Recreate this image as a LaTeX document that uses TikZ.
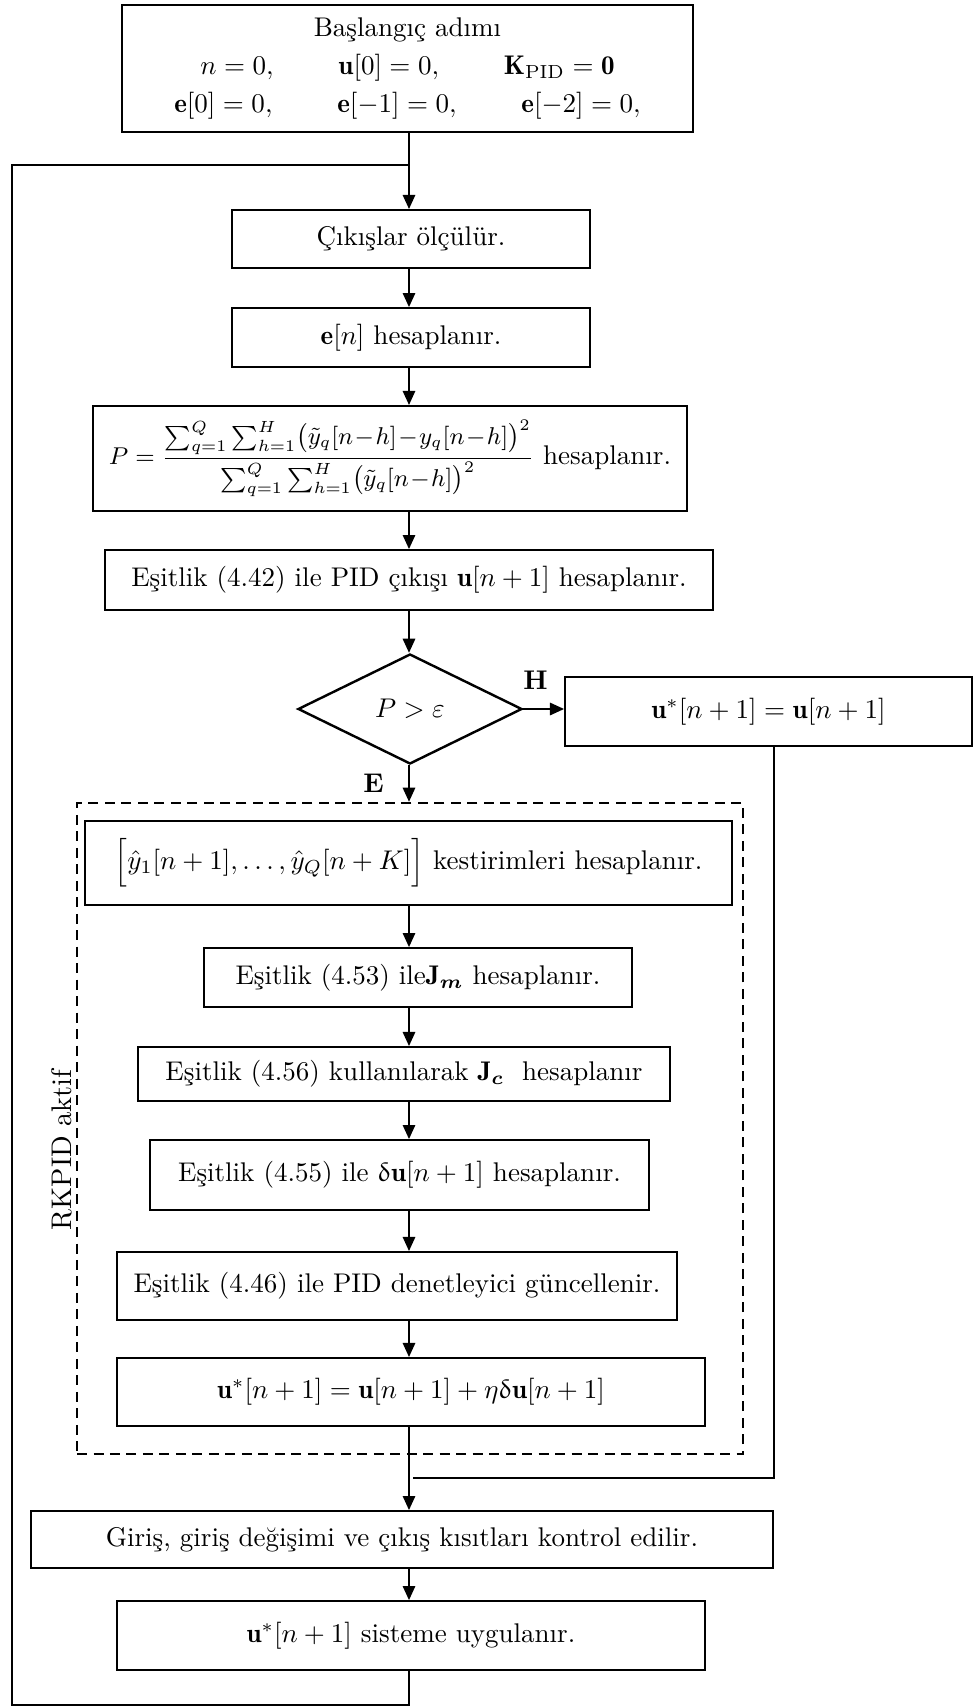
\documentclass[tikz,border=0pt]{standalone}
\usepackage{amsmath}
\usepackage{upgreek}
\usepackage{fontspec}
\usetikzlibrary{arrows.meta,shapes.geometric}
\tikzset{
  kutu/.style={draw, line width=0.7pt, inner sep=0pt, align=center},
  secim/.style={draw, diamond, aspect=2, line width=0.9pt, inner sep=0pt},
  ok/.style={-{Triangle[length=5.2pt,width=4.6pt]}, line width=0.6pt},
  hat/.style={line width=0.7pt},
  etiket/.style={font=\bfseries},
  grup/.style={draw, dash pattern=on 3.7pt off 2.4pt, line width=0.9pt, inner sep=0pt}
}
\begin{document}
\begin{tikzpicture}[x=0.37pt,y=-0.37pt]
    \useasboundingbox (0,0) rectangle (974,1707);
    \coordinate (fl) at (409,0);
    \coordinate (sag) at (774,0);
    \coordinate (birles) at (413,1478);
    \coordinate (alt) at (12,1705);
    \coordinate (ust) at (409,165);
    \node[grup, minimum width=246.4pt, minimum height=240.9pt] (rk) at (410,1128.5) {};
    \node[kutu, minimum width=211.3pt, minimum height=47pt] (bas) at (407.5,68.5) {Başlangıç adımı\\[2pt]
        $n=0,$\hspace{24pt}$\mathbf{u}[0]=0,$\hspace{24pt}$\mathbf{K}_{\mathrm{PID}}=\mathbf{0}$\\[2pt]
        $\mathbf{e}[0]=0,$\hspace{24pt}$\mathbf{e}[-1]=0,$\hspace{24pt}$\mathbf{e}[-2]=0,$};
    \node[kutu, minimum width=132.5pt, minimum height=21.5pt] (olc) at (411,239) {Çıkışlar ölçülür.};
    \node[kutu, minimum width=132.5pt, minimum height=21.8pt] (hata) at (411,337.5) {$\mathbf{e}[n]$ hesaplanır.};
    \node[kutu, minimum width=219.8pt, minimum height=38.9pt] (perf) at (390,458.5) {{\small$\medmuskip=1mu P=\dfrac{\sum_{q=1}^{Q}\sum_{h=1}^{H}\bigl(\tilde{y}_q[n-h]-y_q[n-h]\bigr)^{2}}{\sum_{q=1}^{Q}\sum_{h=1}^{H}\bigl(\tilde{y}_q[n-h]\bigr)^{2}}$} hesaplanır.};
    \node[kutu, minimum width=225pt, minimum height=22.2pt] (pid) at (409,580) {Eşitlik (4.42) ile PID çıkışı $\mathbf{u}[n+1]$ hesaplanır.};
    \node[secim, minimum width=82.9pt, minimum height=40.7pt] (karar) at (410,709) {$P>\varepsilon$};
    \node[kutu, minimum width=150.6pt, minimum height=25.5pt] (uesit) at (768.5,711.5) {$\mathbf{u}^{*}[n+1]=\mathbf{u}[n+1]$};
    \node[kutu, minimum width=239.4pt, minimum height=31.1pt] (kest) at (408.5,863) {$\Bigl[\hat{y}_1[n+1],\ldots,\hat{y}_Q[n+K]\Bigr]$ kestirimleri hesaplanır.};
    \node[kutu, minimum width=158.4pt, minimum height=21.8pt] (jm) at (418,977.5) {Eşitlik (4.53) ile$\mathbf{J}_{\boldsymbol{m}}$ hesaplanır.};
    \node[kutu, minimum width=196.8pt, minimum height=20pt] (jc) at (404,1074) {Eşitlik (4.56) kullanılarak $\mathbf{J}_{\boldsymbol{c}}$\ \ hesaplanır};
    \node[kutu, minimum width=184.6pt, minimum height=25.9pt] (du) at (399.5,1175) {Eşitlik (4.55) ile $\updelta\mathbf{u}[n+1]$ hesaplanır.};
    \node[kutu, minimum width=207.2pt, minimum height=25.2pt] (gunc) at (397,1286) {Eşitlik (4.46) ile PID denetleyici güncellenir.};
    \node[kutu, minimum width=217.6pt, minimum height=25.2pt] (uyeni) at (411,1392) {$\mathbf{u}^{*}[n+1]=\mathbf{u}[n+1]+\eta\updelta\mathbf{u}[n+1]$};
    \node[kutu, minimum width=274.5pt, minimum height=21.1pt] (kisit) at (402,1539.5) {Giriş, giriş değişimi ve çıkış kısıtları kontrol edilir.};
    \node[kutu, minimum width=217.6pt, minimum height=25.5pt] (uygula) at (411,1635.5) {$\mathbf{u}^{*}[n+1]$ sisteme uygulanır.};
    \node[rotate=90, font=\fontsize{10.5}{12}\selectfont] (rkad) at (62,1150) {RKPID aktif};
    \foreach \a/\b in {bas/olc,olc/hata,hata/perf,perf/pid,pid/karar,kest/jm,jm/jc,jc/du,du/gunc,gunc/uyeni,uyeni/kisit,kisit/uygula}
        \draw[ok] (\a.south -| fl) -- (\b.north -| fl);
    \draw[ok] (karar.south -| fl) -- node[etiket, left, xshift=-5.7pt] {E} (rk.north -| fl);
    \draw[ok] (karar.east) -- node[etiket, above, pos=0.3, yshift=3.7pt] {H} (karar.east -| uesit.west);
    \draw[hat] (uesit.south -| sag) |- (birles);
    \draw[hat] (uygula.south -| fl) |- (alt) |- (ust);
\end{tikzpicture}
\end{document}
